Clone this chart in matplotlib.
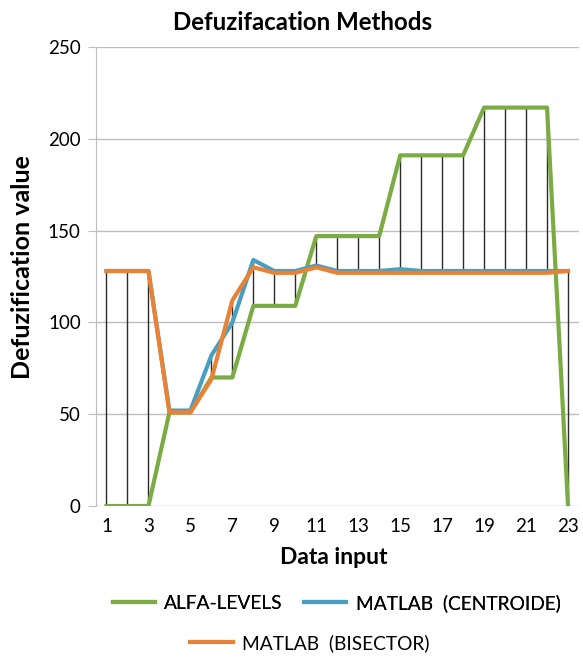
import matplotlib
matplotlib.use("Agg")
import matplotlib.pyplot as plt
import numpy as np

plt.rcParams['font.family'] = ['Lato', 'DejaVu Sans']

x = list(range(1, 24))
alfa = [0, 0, 0, 51, 51, 70, 70, 109, 109, 109, 147, 147, 147, 147,
        191, 191, 191, 191, 217, 217, 217, 217, 0]
centroide = [128, 128, 128, 52, 52, 82, 100, 134, 128, 128, 131, 128, 128, 128,
             129, 128, 128, 128, 128, 128, 128, 128, 128]
bisector = [128, 128, 128, 51, 51, 69, 112, 130, 127, 127, 130, 127, 127, 127,
            127, 127, 127, 127, 127, 127, 127, 127, 128]
labels = ['ALFA-LEVELS', 'MATLAB  (CENTROIDE)', 'MATLAB  (BISECTOR)']
xtick_labels = [str(v) for v in range(1, 24, 2)]

c_green = '#7BAC44'
c_blue = '#4A9EC2'
c_orange = '#EA8236'

W, H = 583, 657
fig = plt.figure(figsize=(W/100, H/100), dpi=100)
ax = fig.add_axes([96/W, 1-506/H, (578.5-96)/W, (506-47)/H])

arr = np.array([alfa, centroide, bisector])
ax.vlines(x, arr.min(axis=0), arr.max(axis=0), colors='#2b2b2b', linewidth=1.0, zorder=2)

l1, = ax.plot(x, alfa, color=c_green, lw=3, zorder=3, solid_joinstyle='round')
l2, = ax.plot(x, centroide, color=c_blue, lw=3, zorder=4, solid_joinstyle='round')
l3, = ax.plot(x, bisector, color=c_orange, lw=3, zorder=5, solid_joinstyle='round')

ax.set_xlim(0.5, 23.5)
ax.set_ylim(0, 250)
ax.set_yticks([0, 50, 100, 150, 200, 250])
ax.set_xticks(list(range(1, 24, 2)))
ax.set_xticklabels(xtick_labels)
ax.yaxis.grid(True, color='#BEBEBE', lw=1)
ax.set_axisbelow(True)
for s in ['top', 'right', 'bottom']:
    ax.spines[s].set_visible(False)
ax.spines['left'].set_color('#BEBEBE')
ax.tick_params(axis='y', length=6, color='#BEBEBE', labelsize=13.5, pad=5)
ax.tick_params(axis='x', length=0, labelsize=13.5, pad=9)

fig.text(303/W, 1-22/H, 'Defuzifacation Methods', fontsize=17.3, fontweight='bold',
         ha='center', va='center')
fig.text(334/W, 1-558/H, 'Data input', fontsize=16.5, fontweight='bold',
         ha='center', va='center')
fig.text(23/W, 1-267/H, 'Defuzification value', fontsize=18, fontweight='bold',
         ha='center', va='center', rotation=90)

leg1 = fig.legend([l1, l2], labels[:2], loc='center', bbox_to_anchor=(336.5/W, 1-603/H),
                  ncol=2, frameon=False, fontsize=13.8, handlelength=2.2, handletextpad=0.5,
                  columnspacing=1.1)
leg2 = fig.legend([l3], labels[2:], loc='center', bbox_to_anchor=(310/W, 1-643/H),
                  frameon=False, fontsize=13.8, handlelength=2.2, handletextpad=0.5)
fig.add_artist(leg1)

fig.savefig('out.png', dpi=100)
